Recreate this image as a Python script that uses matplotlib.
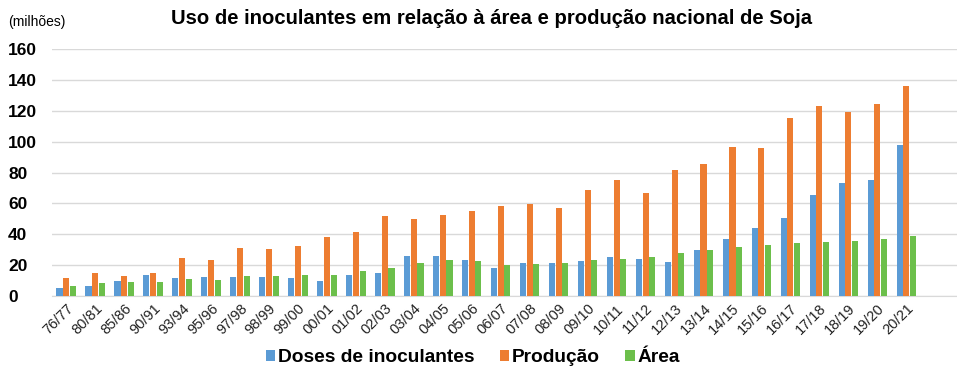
import matplotlib
matplotlib.use("Agg")
import matplotlib.pyplot as plt
import numpy as np

plt.rcParams['font.family'] = ['Liberation Sans', 'DejaVu Sans']

safras = ["76/77", "80/81", "85/86", "90/91", "93/94", "95/96", "97/98", "98/99",
          "99/00", "00/01", "01/02", "02/03", "03/04", "04/05", "05/06", "06/07",
          "07/08", "08/09", "09/10", "10/11", "11/12", "12/13", "13/14", "14/15",
          "15/16", "16/17", "17/18", "18/19", "19/20", "20/21"]

doses = [5.4, 6.5, 10.0, 13.5, 11.7, 12.4, 12.4, 12.4, 11.7, 10.0, 13.9, 14.6,
         26.1, 26.1, 23.0, 18.0, 21.5, 21.5, 22.6, 25.0, 24.1, 22.0, 30.0, 36.7,
         44.3, 50.4, 65.2, 73.3, 75.0, 97.8]
producao = [11.7, 15.0, 13.0, 15.0, 24.8, 23.0, 31.0, 30.7, 32.2, 38.5, 41.7, 51.7,
            49.6, 52.2, 55.2, 58.5, 59.6, 56.7, 68.9, 75.0, 66.5, 81.3, 85.7, 96.7,
            95.7, 115.0, 122.8, 119.3, 124.6, 136.0]
area = [6.7, 8.3, 9.3, 9.3, 11.3, 10.4, 12.8, 12.8, 13.7, 13.9, 16.3, 18.3,
        21.5, 23.0, 22.6, 20.4, 20.9, 21.5, 23.0, 24.1, 25.0, 27.6, 30.0, 32.0,
        33.0, 34.1, 35.2, 35.7, 36.7, 38.7]

series = [("Doses de inoculantes", doses, "#5B9BD5"),
          ("Produção", producao, "#ED7D31"),
          ("Área", area, "#6CBF4B")]

fig = plt.figure(figsize=(9.57, 3.70), dpi=100)
ax = fig.add_axes([52 / 957, 1 - 296 / 370, (957 - 52) / 957, (296 - 49) / 370])

x = np.arange(len(safras))
w = 0.21
gap = 0.02
for i, (name, vals, col) in enumerate(series):
    ax.bar(x + (i - 1) * (w + gap), vals, width=w, color=col, label=name, zorder=3)

ax.set_xlim(-0.49, 30.75)
ax.set_ylim(0, 160)
ax.set_yticks(np.arange(0, 161, 20))
ax.yaxis.grid(True, color="#D9D9D9", linewidth=1.0, zorder=0)
ax.set_axisbelow(True)
for s in ["top", "right", "left"]:
    ax.spines[s].set_visible(False)
ax.spines["bottom"].set_color("#D9D9D9")
ax.tick_params(axis="y", length=0, pad=31.5, labelsize=12.5)
for lab in ax.get_yticklabels():
    lab.set_fontweight("bold")
    lab.set_horizontalalignment("left")

ax.set_xticks(x)
ax.set_xticklabels(safras, rotation=45, ha="right", rotation_mode="anchor",
                   fontsize=10.5, color="#222222")
ax.tick_params(axis="x", length=0, pad=4)

fig.text(0.5135, 1 - 18 / 370, "Uso de inoculantes em relação à área e produção nacional de Soja",
         ha="center", va="center", fontsize=14.6, fontweight="bold")
fig.text(8 / 957, 1 - 22 / 370, "(milhões)", ha="left", va="center", fontsize=10)

fig.legend(loc="center", bbox_to_anchor=(0.494, 1 - 358 / 370), ncol=3, frameon=False,
           prop={"size": 13.8, "weight": "bold"}, handlelength=0.5, handleheight=0.5,
           handletextpad=0.15, columnspacing=1.3)

fig.savefig("out.png", dpi=100)
